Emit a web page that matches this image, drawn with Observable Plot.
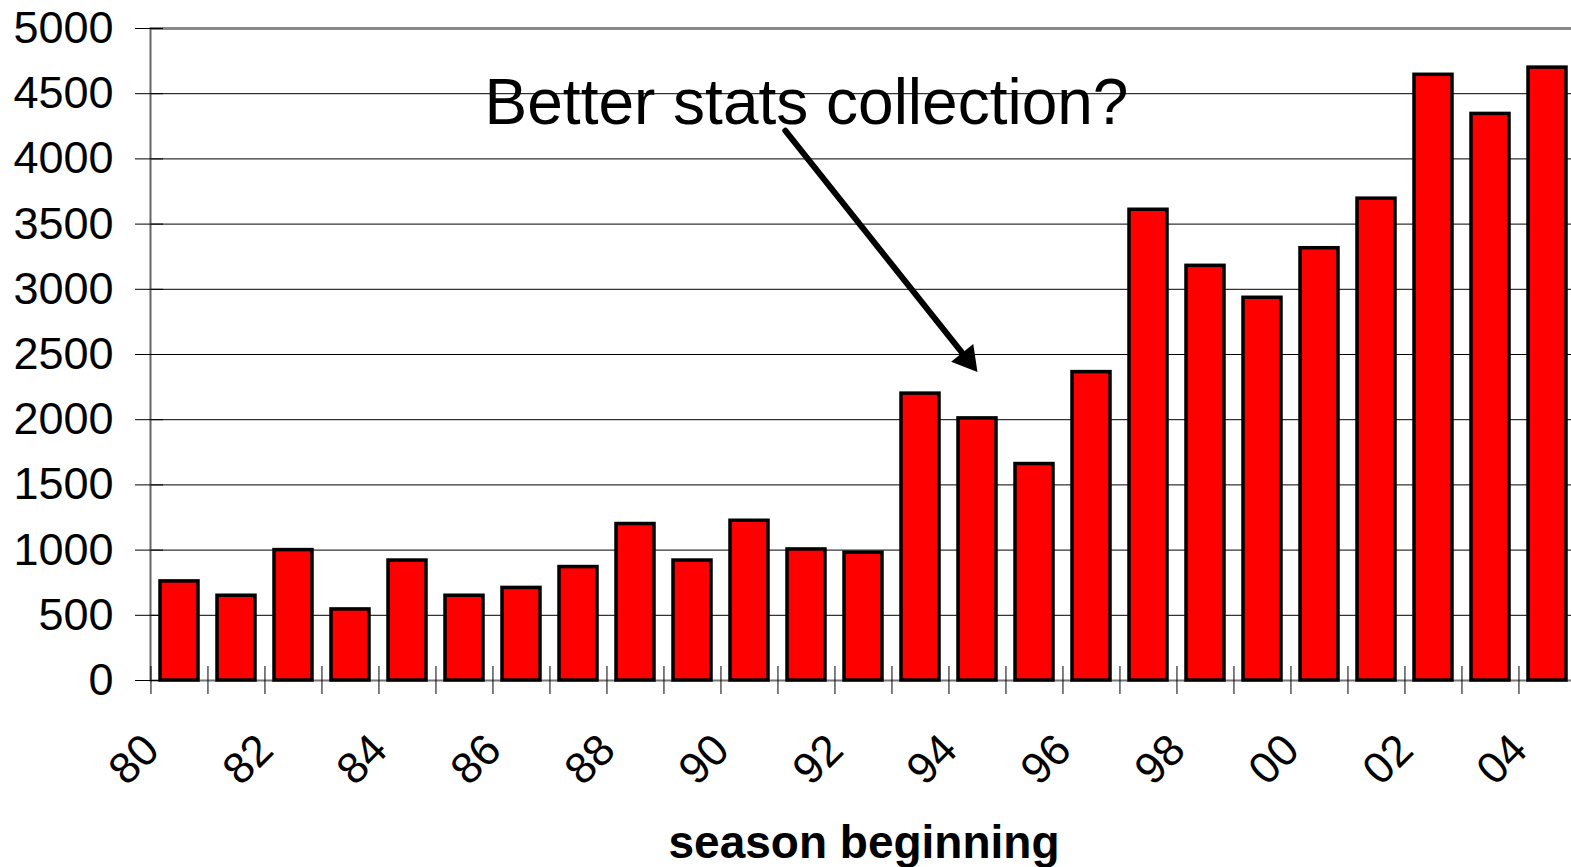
<!DOCTYPE html>
<html><head><meta charset="utf-8">
<script src="https://cdn.jsdelivr.net/npm/d3@7"></script>
<script src="https://cdn.jsdelivr.net/npm/@observablehq/plot@0.6"></script>
<style>html,body{margin:0;padding:0;background:#fff;overflow:hidden}</style>
</head><body><div id="chart"></div>
<script>
// ---- data ----
const seasons = ["80","81","82","83","84","85","86","87","88","89","90","91","92","93","94","95","96","97","98","99","00","01","02","03","04"];
const counts = [760,650,1000,545,920,650,710,870,1200,920,1225,1005,980,2200,2010,1660,2365,3610,3180,2935,3315,3695,4645,4345,4700];
const yTicks = [0,500,1000,1500,2000,2500,3000,3500,4000,4500,5000];
const gridValues = [500,1000,1500,2000,2500,3000,3500,4000,4500];
const xLabels = ["80","82","84","86","88","90","92","94","96","98","00","02","04"];
const axisTitle = ["season beginning"];
const annotationText = [{season: "91", value: 4421, label: "Better stats collection?"}];
const annotationArrow = [{from: "91", fromValue: 4012, to: "94", toValue: 2365}];

const data = seasons.map((s, i) => ({season: s, count: counts[i]}));

// ---- layout ----
const W = 1571, H = 867, mL = 150, mR = -6, mT = 28, mB = 187;
const step = (W - mL - mR) / seasons.length;
const font = "Liberation Sans, Arial, Helvetica, sans-serif";

const chart = Plot.plot({
  width: W, height: H,
  marginLeft: mL, marginRight: mR, marginTop: mT, marginBottom: mB,
  style: {fontFamily: font, background: "#fff", overflow: "hidden", maxWidth: "none"},
  x: {domain: seasons, paddingInner: 0.33, paddingOuter: 0.165, axis: null},
  y: {domain: [0, 5000], axis: null},
  marks: [
    Plot.ruleY(gridValues, {stroke: "#000", strokeWidth: 1}),
    Plot.ruleY([5000], {stroke: "#888", strokeWidth: 3}),
    Plot.frame({anchor: "left", stroke: "#666", strokeWidth: 2}),
    Plot.ruleY([0], {stroke: "#777", strokeWidth: 2}),
    Plot.axisY({ticks: yTicks, tickSize: 28, dx: 13, tickPadding: 22, fontSize: 45,
      tickFormat: d => String(d), label: null, stroke: "#000", color: "#000"}),
    Plot.axisX({tickSize: 28, dy: -14, dx: -step / 2, tickFormat: () => "", label: null, stroke: "#000"}),
    Plot.barY(data, {x: "season", y: "count", fill: "#ff0000", stroke: "#000", strokeWidth: 3.5}),
    Plot.text(xLabels, {x: d => d, frameAnchor: "bottom", rotate: -45, textAnchor: "end",
      lineAnchor: "middle", dx: -28, dy: 62, fontSize: 44, fill: "#000"}),
    Plot.text(axisTitle, {frameAnchor: "bottom", text: d => d, dy: 163, lineAnchor: "middle",
      fontSize: 46, fontWeight: "bold", fill: "#000"}),
    Plot.text(annotationText, {x: "season", y: "value", text: "label", fontSize: 64,
      lineAnchor: "middle", textAnchor: "middle", fill: "#000"}),
    Plot.arrow(annotationArrow, {x1: "from", y1: "fromValue", x2: "to", y2: "toValue",
      stroke: "#000", strokeWidth: 6, headLength: 0, insetStart: -34, insetEnd: 14}),
    Plot.dot(annotationArrow, {x: "to", y: "toValue", symbol: "triangle", r: 10.5,
      fill: "#000", stroke: "none", rotate: 141.4, dx: -10.2, dy: -12.8})
  ]
});
document.getElementById("chart").appendChild(chart);
</script>
</body></html>
